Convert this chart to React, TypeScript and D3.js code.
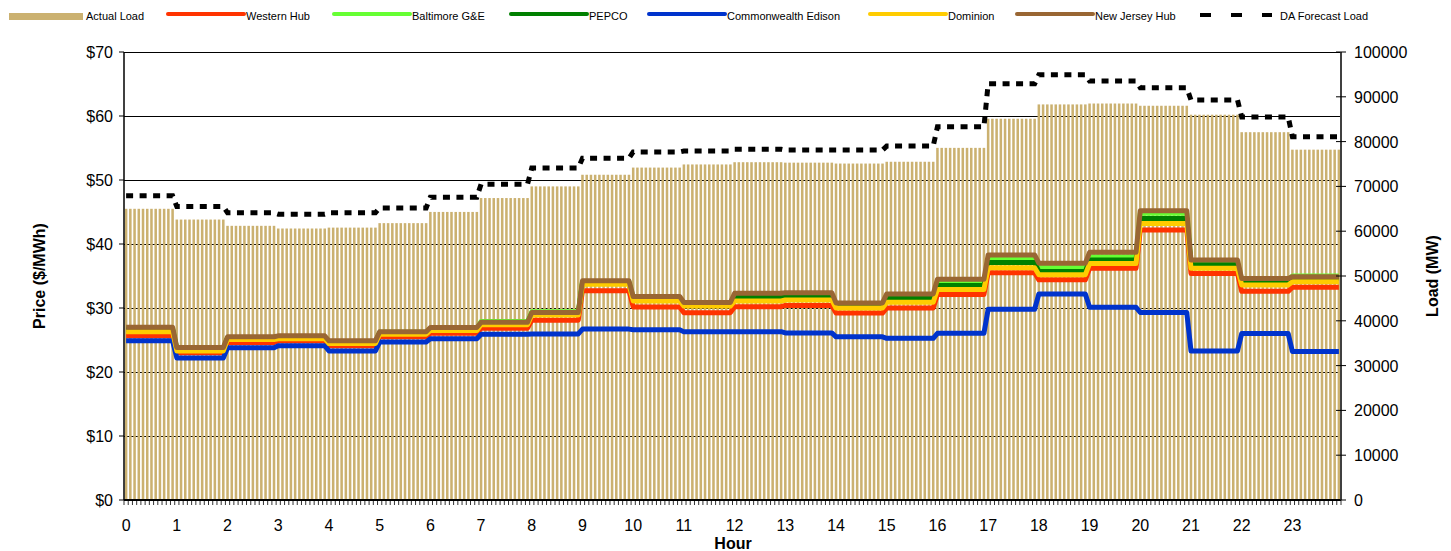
import React from 'react'
import * as d3 from 'd3'

// hourly values (each hour is shown as 12 five-minute slots)
const hours = d3.range(24)
const actualLoad = [65000, 62600, 61200, 60600, 60800, 61800, 64300, 67400, 70000, 72600, 74200, 74900,
    75400, 75300, 75100, 75500, 78600, 85100, 88300, 88500, 88000, 86000, 82100, 78200]
const daForecast = [67900, 65500, 64100, 63800, 64100, 65200, 67600, 70500, 74100, 76300, 77700, 77900,
    78300, 78100, 78100, 79000, 83300, 92900, 94900, 93500, 92000, 89300, 85500, 81100]
const westernHub = [25.65, 23.0, 24.6, 24.9, 24.1, 25.5, 26.06, 26.85, 28.1, 32.7, 30.16, 29.27,
    30.2, 30.4, 29.2, 30.0, 32.1, 35.5, 34.4, 36.2, 42.2, 35.4, 32.6, 33.25]
const baltimore = [26.8, 23.7, 25.4, 25.5, 24.7, 26.2, 26.8, 27.9, 29.4, 34.1, 31.6, 30.7,
    32.0, 32.1, 30.6, 31.8, 34.0, 37.7, 36.4, 38.0, 44.8, 37.1, 34.4, 35.0]
const pepco = [26.6, 23.5, 25.3, 25.4, 24.6, 26.1, 26.7, 27.6, 29.1, 33.9, 31.4, 30.5,
    31.7, 31.8, 30.4, 31.5, 33.5, 37.1, 35.7, 37.5, 44.0, 36.75, 34.2, 34.6]
const comEd = [24.87, 22.19, 23.8, 24.1, 23.3, 24.7, 25.2, 25.9, 25.94, 26.7, 26.6, 26.27,
    26.3, 26.1, 25.5, 25.26, 26.04, 29.8, 32.2, 30.1, 29.3, 23.3, 26.0, 23.2]
const dominion = [26.3, 23.3, 25.08, 25.2, 24.45, 25.9, 26.5, 27.4, 28.9, 33.7, 31.1, 30.3,
    31.1, 31.25, 30.0, 30.9, 32.9, 36.3, 35.2, 36.95, 43.2, 36.2, 33.6, 34.1]
const newJersey = [26.98, 23.83, 25.5, 25.65, 24.87, 26.3, 26.95, 27.76, 29.3, 34.24, 31.8, 30.86,
    32.3, 32.4, 30.8, 32.2, 34.5, 38.3, 37.0, 38.7, 45.2, 37.5, 34.6, 34.9]

const priceTicks = [0, 10, 20, 30, 40, 50, 60, 70]
const loadTicks = d3.range(0, 100001, 10000)

const priceSeries = [
    { name: 'Western Hub', color: '#FF3300', values: westernHub, lx: 168 },
    { name: 'Baltimore G&E', color: '#66FF33', values: baltimore, lx: 334 },
    { name: 'PEPCO', color: '#008000', values: pepco, lx: 511 },
    { name: 'Commonwealth Edison', color: '#0033CC', values: comEd, lx: 649 },
    { name: 'Dominion', color: '#FFCC00', values: dominion, lx: 870 },
    { name: 'New Jersey Hub', color: '#996633', values: newJersey, lx: 1017 },
]

const SLOTS = 12
const toSlots = (arr: number[]) => arr.flatMap(v => d3.range(SLOTS).map(() => v))

const W = 1451, H = 551
const left = 124, right = 1341, top = 52, bottom = 500
const font = 'Arial, "Liberation Sans", sans-serif'
const tan = '#CBB170'

const App = () => {
    const slots = d3.range(hours.length * SLOTS)
    const x = d3.scaleBand<number>().domain(slots).range([left, right]).paddingInner(0.4).paddingOuter(0.2)
    const cx = (i: number) => (x(i) as number) + x.bandwidth() / 2
    const yPrice = d3.scaleLinear().domain([0, 70]).range([bottom, top])
    const yLoad = d3.scaleLinear().domain([0, 100000]).range([bottom, top])

    const loadSlots = toSlots(actualLoad)
    const daSlots = toSlots(daForecast)

    const priceLine = d3.line<number>().x((d, i) => cx(i)).y(d => yPrice(d))
    const loadLine = d3.line<number>().x((d, i) => cx(i)).y(d => yLoad(d))

    const boundaries = d3.range(slots.length + 1).map(i => left + i * (right - left) / slots.length)

    return (
        <svg width={W} height={H} style={{ position: 'absolute', left: 0, top: 0, background: '#fff' }} fontFamily={font}>
            {/* gridlines */}
            {priceTicks.filter(t => t > 0).map(t => (
                <line key={t} x1={left} x2={right} y1={Math.round(yPrice(t)) + 0.5} y2={Math.round(yPrice(t)) + 0.5} stroke="#000" strokeWidth={1} />
            ))}

            {/* actual load bars */}
            {loadSlots.map((v, i) => (
                <rect key={i} x={x(i)} y={yLoad(v)} width={x.bandwidth()} height={bottom - yLoad(v)} fill={tan} />
            ))}

            {/* price lines */}
            {priceSeries.map(s => (
                <path key={s.name} d={priceLine(toSlots(s.values)) || ''} fill="none" stroke={s.color}
                    strokeWidth={5} strokeLinejoin="round" />
            ))}

            {/* DA forecast */}
            <path d={loadLine(daSlots) || ''} fill="none" stroke="#000" strokeWidth={5} strokeDasharray="7,6.5" />

            {/* x axis */}
            {boundaries.map((b, i) => (
                <line key={i} x1={b} x2={b} y1={bottom} y2={bottom + 5} stroke="#333" strokeWidth={1} />
            ))}
            <line x1={left} x2={right} y1={bottom} y2={bottom} stroke="#000" strokeWidth={2} />
            {hours.map(h => (
                <text key={h} x={cx(h * SLOTS)} y={531} fontSize={16} textAnchor="middle" fill="#000">{h}</text>
            ))}
            <text x={733} y={549} fontSize={16} fontWeight="bold" textAnchor="middle">Hour</text>

            {/* left axis */}
            <line x1={left} x2={left} y1={top} y2={bottom} stroke="#000" strokeWidth={1.5} />
            {priceTicks.map(t => (
                <g key={t}>
                    <line x1={left - 5} x2={left} y1={yPrice(t)} y2={yPrice(t)} stroke="#000" />
                    <text x={113} y={yPrice(t) + 6} fontSize={16} textAnchor="end">{'$' + t}</text>
                </g>
            ))}
            <text transform={`translate(45,${(top + bottom) / 2}) rotate(-90)`} fontSize={16} fontWeight="bold" textAnchor="middle">Price ($/MWh)</text>

            {/* right axis */}
            <line x1={right} x2={right} y1={top} y2={bottom} stroke="#404040" strokeWidth={2} />
            {loadTicks.map(t => (
                <g key={t}>
                    <line x1={right - 5} x2={right + 5} y1={yLoad(t)} y2={yLoad(t)} stroke="#000" />
                    <text x={1354} y={yLoad(t) + 6} fontSize={16}>{t}</text>
                </g>
            ))}
            <text transform={`translate(1438,${(top + bottom) / 2}) rotate(-90)`} fontSize={16} fontWeight="bold" textAnchor="middle">Load (MW)</text>

            {/* legend */}
            <rect x={9} y={13} width={74} height={7} fill={tan} />
            <text x={86} y={20} fontSize={11}>Actual Load</text>
            {priceSeries.map(s => (
                <g key={s.name}>
                    <line x1={s.lx} x2={s.lx + 76} y1={14} y2={14} stroke={s.color} strokeWidth={4} strokeLinecap="round" />
                    <text x={s.lx + 78} y={20} fontSize={11}>{s.name}</text>
                </g>
            ))}
            <line x1={1200} x2={1272} y1={15} y2={15} stroke="#000" strokeWidth={4} strokeDasharray="11,20" />
            <text x={1280} y={20} fontSize={11}>DA Forecast Load</text>
        </svg>
    )
}

export default App
